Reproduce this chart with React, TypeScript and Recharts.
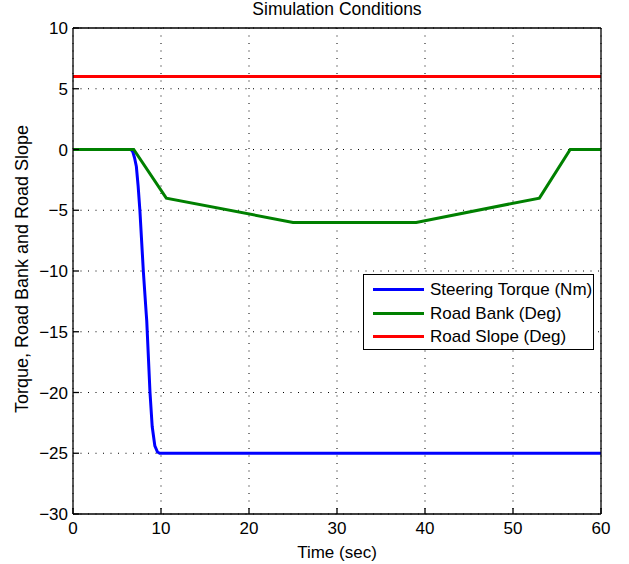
import React from 'react';
import { LineChart, Line, XAxis, YAxis, CartesianGrid, Legend } from 'recharts';

const timeTicks = [0, 10, 20, 30, 40, 50, 60];
const valueTicks = [-30, -25, -20, -15, -10, -5, 0, 5, 10];

const seriesNames = ['Steering Torque (Nm)', 'Road Bank (Deg)', 'Road Slope (Deg)'];

const torqueTime = [0, 6.6, 6.8, 7.0, 7.2, 7.4, 7.6, 8.0, 8.33, 8.38, 8.75, 9.0, 9.3, 9.6, 9.85, 60];
const torqueValue = [0, 0, -0.2, -0.7, -1.4, -3.0, -5.0, -10.1, -13.6, -14.1, -20, -22.8, -24.4, -24.9, -25, -25];

const bankTime = [0, 6.9, 10.6, 25, 39, 53, 56.5, 60];
const bankValue = [0, 0, -4, -6, -6, -4, 0, 0];

const slopeTime = [0, 60];
const slopeValue = [6, 6];

const toRows = (t: number[], v: number[]) => t.map((x, i) => ({ t: x, v: v[i] }));
const torqueData = toRows(torqueTime, torqueValue);
const bankData = toRows(bankTime, bankValue);
const slopeData = toRows(slopeTime, slopeValue);

const FONT = '"Liberation Sans", Arial, Helvetica, sans-serif';
const fmt = (v: number) => String(v).replace('-', '\u2212');
const noTick = () => <g />;

const YLabel = (props: any) => {
  const vb = props.viewBox;
  const cx = vb.x + 22;
  const cy = vb.y + vb.height / 2 - 2;
  return (
    <text x={cx} y={cy} transform={`rotate(-90 ${cx} ${cy})`} textAnchor="middle" dominantBaseline="central"
      fontFamily={FONT} fontSize={18} fill="#000">
      Torque, Road Bank and Road Slope
    </text>
  );
};

const Title = (props: any) => {
  const vb = props.viewBox;
  return (
    <text x={vb.x + vb.width / 2} y={vb.y + 14.5} textAnchor="middle" fontFamily={FONT} fontSize={17.5} fill="#000">
      Simulation Conditions
    </text>
  );
};

const LegendBox = (props: any) => {
  const payload = [...(props.payload || [])].sort(
    (a: any, b: any) => seriesNames.indexOf(a.value) - seriesNames.indexOf(b.value)
  );
  return (
    <div style={{ width: 229, height: 74, border: '1.5px solid #000', background: '#fff', fontFamily: FONT, fontSize: 17, position: 'relative' }}>
      {payload.map((p: any, i: number) => (
        <div key={i} style={{ position: 'absolute', left: 0, top: 3 + i * 23.5, height: 23, display: 'flex', alignItems: 'center' }}>
          <div style={{ marginLeft: 9, width: 51, height: 3, background: p.color }} />
          <span style={{ marginLeft: 6, whiteSpace: 'nowrap', lineHeight: '23px' }}>{p.value}</span>
        </div>
      ))}
    </div>
  );
};

export default function App() {
  return (
    <div style={{ position: 'absolute', left: 0, top: 0, background: '#fff' }}>
      <LineChart width={629} height={564} margin={{ top: 0, right: 0, bottom: 0, left: 0 }}>
        <CartesianGrid stroke="#000" strokeDasharray="1 6.5" strokeWidth={1} />
        <XAxis dataKey="t" type="number" domain={[0, 60]} ticks={timeTicks} allowDuplicatedCategory={false}
          height={50} tickSize={-6} tickMargin={14} stroke="#000" strokeWidth={1.3}
          tick={{ fill: '#000', fontFamily: FONT, fontSize: 17 }}
          label={{ value: 'Time (sec)', position: 'insideBottom', offset: 6, fill: '#000', fontFamily: FONT, fontSize: 17 }} />
        <XAxis xAxisId="top" orientation="top" dataKey="t" type="number" domain={[0, 60]} ticks={timeTicks}
          allowDuplicatedCategory={false} height={28} tickSize={-6} stroke="#000" strokeWidth={1.3} tick={noTick}
          label={<Title />} />
        <YAxis type="number" domain={[-30, 10]} ticks={valueTicks} width={73} tickSize={-6} tickMargin={11}
          stroke="#000" strokeWidth={1.3} tickFormatter={fmt}
          tick={{ fill: '#000', fontFamily: FONT, fontSize: 17 }} label={<YLabel />} />
        <YAxis yAxisId="right" orientation="right" type="number" domain={[-30, 10]} ticks={valueTicks} width={28}
          tickSize={-6} stroke="#000" strokeWidth={1.3} tick={noTick} />
        <Legend layout="vertical" align="center" verticalAlign="middle" content={<LegendBox />}
          wrapperStyle={{ position: 'absolute', left: 363, top: 274, width: 232, height: 77 }} />
        <Line data={torqueData} dataKey="v" name={seriesNames[0]} stroke="#0000ff" strokeWidth={3}
          dot={false} isAnimationActive={false} type="linear" />
        <Line data={bankData} dataKey="v" name={seriesNames[1]} stroke="#008000" strokeWidth={3}
          dot={false} isAnimationActive={false} type="linear" />
        <Line data={slopeData} dataKey="v" name={seriesNames[2]} stroke="#ff0000" strokeWidth={3}
          dot={false} isAnimationActive={false} type="linear" />
      </LineChart>
    </div>
  );
}
